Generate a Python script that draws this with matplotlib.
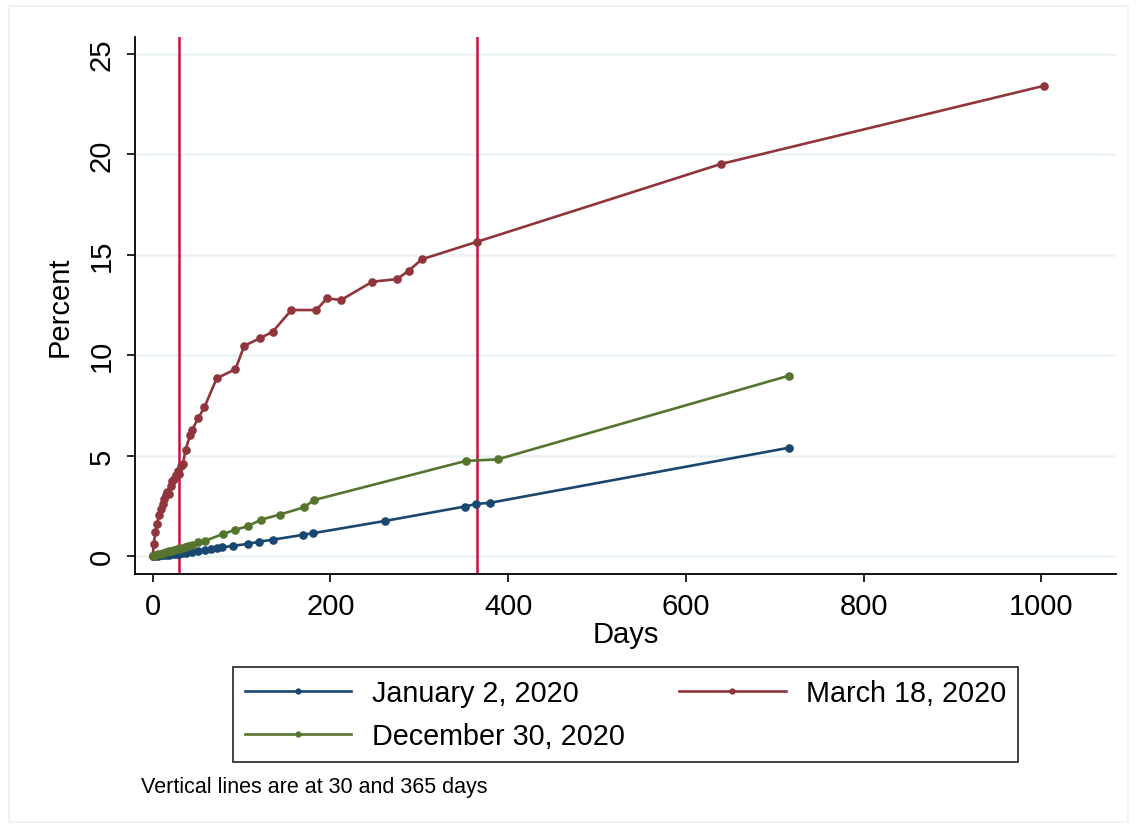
import matplotlib
matplotlib.use("Agg")
import matplotlib.pyplot as plt
from matplotlib.patches import Rectangle
from matplotlib.lines import Line2D

# ---- data ----
red_days = [0, 1, 3, 5, 7, 9, 11, 13, 15, 16, 18, 20, 22, 24, 26, 28, 30, 32, 34, 37,
            42, 44, 51, 58, 72, 93, 103, 121, 135, 156, 184, 196, 212, 247, 275, 288,
            303, 365, 639, 1003]
red_vals = [0, 0.6, 1.2, 1.6, 2.05, 2.35, 2.6, 2.85, 3.05, 3.2, 3.1, 3.5, 3.75, 3.85,
            4.05, 4.25, 4.1, 4.5, 4.6, 5.3, 6.0, 6.25, 6.85, 7.4, 8.85, 9.3, 10.47,
            10.85, 11.17, 12.25, 12.25, 12.83, 12.75, 13.66, 13.79, 14.21, 14.78,
            15.65, 19.52, 23.42]

blue_days = [0, 3, 6, 9, 12, 15, 18, 21, 24, 27, 30, 33, 37, 44, 51, 59, 65, 72, 78,
             90, 107, 120, 135, 169, 180, 261, 351, 364, 380, 716]
blue_vals = [0, 0.01, 0.02, 0.035, 0.05, 0.06, 0.07, 0.085, 0.095, 0.11, 0.12, 0.135,
             0.15, 0.18, 0.23, 0.30, 0.35, 0.38, 0.43, 0.50, 0.60, 0.71, 0.81, 1.05,
             1.13, 1.74, 2.46, 2.59, 2.65, 5.39]

green_days = [0, 3, 6, 9, 12, 15, 18, 21, 24, 27, 30, 33, 36, 40, 44, 51, 59, 79, 92,
              107, 122, 143, 170, 182, 352, 388, 716]
green_vals = [0, 0.04, 0.08, 0.11, 0.15, 0.19, 0.23, 0.27, 0.30, 0.34, 0.37, 0.42,
              0.46, 0.50, 0.56, 0.68, 0.76, 1.09, 1.29, 1.48, 1.81, 2.06, 2.42, 2.79,
              4.73, 4.81, 8.98]

series_labels = ["January 2, 2020", "March 18, 2020", "December 30, 2020"]
vlines_days = [30, 365]
x_ticks = [0, 200, 400, 600, 800, 1000]
y_ticks = [0, 5, 10, 15, 20, 25]
note_text = "Vertical lines are at 30 and 365 days"

# ---- styling ----
plt.rcParams['font.family'] = ['Liberation Sans', 'DejaVu Sans']
navy = "#1a476f"
maroon = "#90353b"
green = "#55752f"
vcol = "#cc1040"
W, H = 1137, 829
fig = plt.figure(figsize=(W / 100, H / 100), dpi=100)
fig.patch.set_facecolor("white")

# faint outer frame
fig.add_artist(Rectangle((9 / W, 6 / H), (1128 - 9) / W, (822 - 6) / H,
                         transform=fig.transFigure, fill=False,
                         edgecolor="#eef1f2", linewidth=1.2))

ax = fig.add_axes([135 / W, 1 - 575 / H, (1116 - 135) / W, (575 - 38) / H])
ax.set_facecolor("white")

for y in y_ticks:
    ax.axhline(y, color="#eaf2f3", linewidth=1.8, zorder=0)

for d in vlines_days:
    ax.axvline(d, color=vcol, linewidth=1.8, zorder=1)

lw, ms = 1.9, 5.2
ax.plot(blue_days, blue_vals, color=navy, lw=lw, marker="o", ms=ms, zorder=3)
ax.plot(red_days, red_vals, color=maroon, lw=lw, marker="o", ms=ms, zorder=3)
ax.plot(green_days, green_vals, color=green, lw=lw, marker="o", ms=ms, zorder=4)

ax.set_xlim(-20, 1084)
ax.set_ylim(-0.9, 25.85)
ax.set_xticks(x_ticks)
ax.set_yticks(y_ticks)
ax.set_yticklabels([str(v) for v in y_ticks], rotation=90, va="center")
ax.tick_params(axis="both", labelsize=21, length=6, width=1.2, color="black")
ax.tick_params(axis="y", pad=8)
ax.tick_params(axis="x", pad=7)
for s in ["top", "right"]:
    ax.spines[s].set_visible(False)
for s in ["left", "bottom"]:
    ax.spines[s].set_linewidth(1.3)
    ax.spines[s].set_color("black")

ax.set_xlabel("Days", fontsize=21, labelpad=0)
ax.set_ylabel("Percent", fontsize=21, labelpad=10)

lh = [Line2D([], [], color=c, lw=lw, marker="o", ms=3.5) for c in (navy, green, maroon)]
leg = fig.legend(lh, [series_labels[0], series_labels[2], series_labels[1]],
                 ncol=2, loc="center", bbox_to_anchor=(625.5 / W, 1 - 715.5 / H),
                 fontsize=20.7, frameon=True, fancybox=False, edgecolor="black",
                 handlelength=3.7, handletextpad=0.7, columnspacing=1.9,
                 labelspacing=0.55, borderpad=0.42, borderaxespad=0)
leg.get_frame().set_linewidth(1.3)

fig.text(141 / W, 1 - 788 / H, note_text, fontsize=15.5, va="center", ha="left")

fig.savefig("out.png", dpi=100)
